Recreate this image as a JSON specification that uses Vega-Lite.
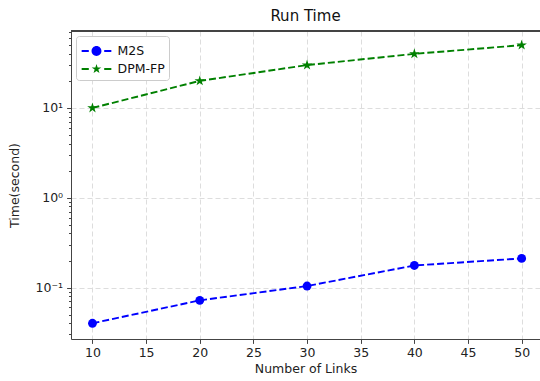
{
  "$schema": "https://vega.github.io/schema/vega-lite/v6.json",
  "width": 469,
  "height": 308,
  "autosize": {"type": "none"},
  "padding": {"left": 71, "top": 31, "right": 0, "bottom": 42},
  "background": "white",
  "title": {"text": "Run Time", "fontSize": 15, "font": "DejaVu Sans", "fontWeight": "normal", "color": "#111", "offset": 2},
  "config": {
    "font": "DejaVu Sans",
    "view": {"stroke": null},
    "axis": {
      "labelFont": "DejaVu Sans", "labelFontSize": 12.5, "labelColor": "#222",
      "titleFont": "DejaVu Sans", "titleFontSize": 12.5, "titleFontWeight": "normal", "titleColor": "#222",
      "domainColor": "#444", "domainWidth": 1, "tickColor": "#444", "tickWidth": 1,
      "gridColor": "#dddddd", "gridDash": [5, 3], "gridWidth": 1
    },
    "legend": {"labelFont": "DejaVu Sans", "labelFontSize": 12.5, "labelColor": "#111"}
  },
  "data": {"values": [
    {"links": 10, "time": 0.040, "method": "M2S"},
    {"links": 20, "time": 0.072, "method": "M2S"},
    {"links": 30, "time": 0.104, "method": "M2S"},
    {"links": 40, "time": 0.176, "method": "M2S"},
    {"links": 50, "time": 0.211, "method": "M2S"},
    {"links": 10, "time": 10, "method": "DPM-FP"},
    {"links": 20, "time": 20, "method": "DPM-FP"},
    {"links": 30, "time": 30, "method": "DPM-FP"},
    {"links": 40, "time": 40, "method": "DPM-FP"},
    {"links": 50, "time": 50, "method": "DPM-FP"}
  ]},
  "layer": [
    {
      "mark": {"type": "line", "strokeDash": [7, 3], "strokeWidth": 1.9},
      "encoding": {
        "x": {"field": "links", "type": "quantitative",
              "scale": {"domain": [8, 51.71], "nice": false, "zero": false},
              "axis": {"title": "Number of Links", "values": [10, 15, 20, 25, 30, 35, 40, 45, 50], "tickSize": 4.4, "labelPadding": 3, "titlePadding": 4, "grid": true, "labelFlush": false}},
        "y": {"field": "time", "type": "quantitative",
              "scale": {"type": "log", "domain": [0.02673, 71.9], "nice": false},
              "axis": {"title": "Time(second)", "titlePadding": 14,
                       "values": [0.03, 0.04, 0.05, 0.06, 0.07, 0.08, 0.09, 0.1, 0.2, 0.3, 0.4, 0.5, 0.6, 0.7, 0.8, 0.9, 1, 2, 3, 4, 5, 6, 7, 8, 9, 10, 20, 30, 40, 50, 60, 70],
                       "labelExpr": "datum.value == 0.1 ? '10⁻¹' : datum.value == 1 ? '10⁰' : datum.value == 10 ? '10¹' : ''",
                       "labelOverlap": false, "labelPadding": 4,
                       "tickSize": {"condition": {"test": "datum.value == 0.1 || datum.value == 1 || datum.value == 10", "value": 4.4}, "value": 2.5},
                       "gridOpacity": {"condition": {"test": "datum.value == 0.1 || datum.value == 1 || datum.value == 10", "value": 1}, "value": 0}}},
        "color": {"field": "method", "type": "nominal",
                  "scale": {"domain": ["M2S", "DPM-FP"], "range": ["#0000ff", "#008000"]},
                  "legend": {"title": null, "orient": "top-left", "offset": 5,
                             "labelFont": "DejaVu Sans", "labelFontSize": 12.5, "labelColor": "#111",
                             "symbolSize": 484, "symbolStrokeWidth": 0, "symbolOpacity": 1, "symbolOffset": 5.5,
                             "strokeColor": "#cccccc", "fillColor": "white", "cornerRadius": 3,
                             "padding": 4, "rowPadding": 0, "labelOffset": 10,
                             "encode": {"symbols": {"update": {
                               "shape": {"signal": "datum.value == 'M2S' ? 'M-1.35,-0.086 L-0.7,-0.086 L-0.7,0.086 L-1.35,0.086 Z M0.7,-0.086 L1.35,-0.086 L1.35,0.086 L0.7,0.086 Z M-0.45,0 A0.45,0.45 0 1,0 0.45,0 A0.45,0.45 0 1,0 -0.45,0 Z' : 'M-1.35,-0.086 L-0.7,-0.086 L-0.7,0.086 L-1.35,0.086 Z M0.7,-0.086 L1.35,-0.086 L1.35,0.086 L0.7,0.086 Z M0,-0.46 L0.103,-0.141 L0.437,-0.142 L0.166,0.054 L0.27,0.372 L0,0.175 L-0.27,0.372 L-0.166,0.054 L-0.437,-0.142 L-0.103,-0.141 Z'"},
                               "fill": {"signal": "datum.value == 'M2S' ? '#0000ff' : '#008000'"},
                               "stroke": {"value": "transparent"},
                               "strokeWidth": {"value": 0}
                             }}}}},
        "detail": {"field": "method"}
      }
    },
    {
      "transform": [{"filter": "datum.method == 'M2S'"}],
      "mark": {"type": "point", "filled": true, "opacity": 1, "size": 78, "shape": "circle"},
      "encoding": {
        "x": {"field": "links", "type": "quantitative"},
        "y": {"field": "time", "type": "quantitative"},
        "color": {"field": "method", "type": "nominal"}
      }
    },
    {
      "transform": [{"filter": "datum.method == 'DPM-FP'"}],
      "mark": {"type": "point", "filled": true, "opacity": 1, "size": 95, "shape": "M0,-1.13 L0.252,-0.347 L1.075,-0.349 L0.408,0.133 L0.664,0.914 L0,0.429 L-0.664,0.914 L-0.408,0.133 L-1.075,-0.349 L-0.252,-0.347 Z"},
      "encoding": {
        "x": {"field": "links", "type": "quantitative"},
        "y": {"field": "time", "type": "quantitative"},
        "color": {"field": "method", "type": "nominal"}
      }
    },
    {
      "mark": {"type": "rule", "color": "#444", "strokeWidth": 1},
      "encoding": {"y": {"datum": 71.9}}
    }
  ]
}
